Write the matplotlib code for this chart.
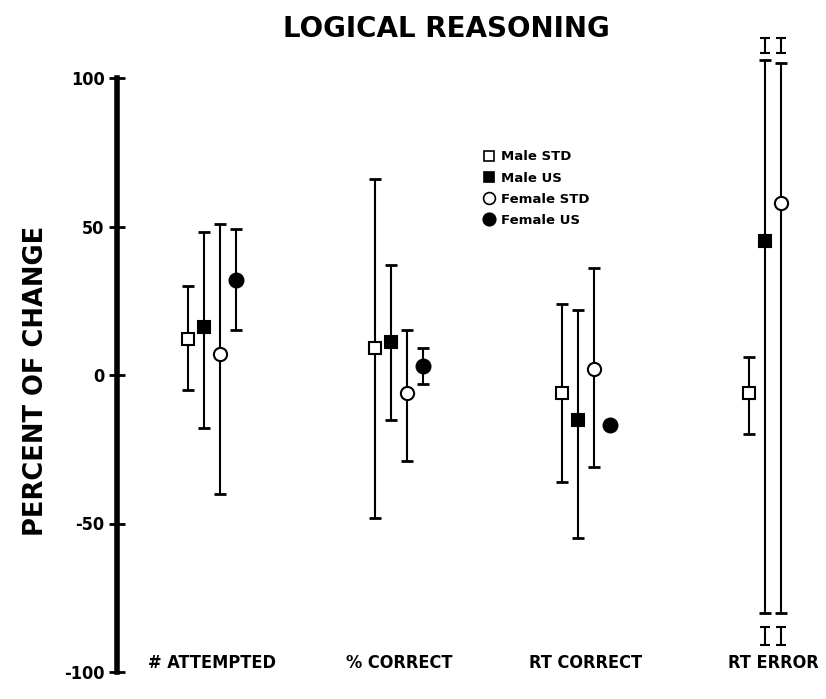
import numpy as np
import matplotlib
matplotlib.use("Agg")
import matplotlib.pyplot as plt
from matplotlib.lines import Line2D

categories = ["# ATTEMPTED", "% CORRECT", "RT CORRECT", "RT ERROR"]
series = ["Male STD", "Male US", "Female STD", "Female US"]

male_std = [12, 9, -6, -6]
male_std_lo = [-5, -48, -36, -20]
male_std_hi = [30, 66, 24, 6]

male_us = [16, 11, -15, 45]
male_us_lo = [-18, -15, -55, -80]
male_us_hi = [48, 37, 22, 106]

female_std = [7, -6, 2, 58]
female_std_lo = [-40, -29, -31, -80]
female_std_hi = [51, 15, 36, 105]

female_us = [32, 3, -17, np.nan]
female_us_lo = [15, -3, -17, np.nan]
female_us_hi = [49, 9, -17, np.nan]

# off-scale breaks on the RT ERROR bars (Male US, Female STD)
break_top = [111, 111]
break_bottom = [-88, -88]

means = [male_std, male_us, female_std, female_us]
lows = [male_std_lo, male_us_lo, female_std_lo, female_us_lo]
highs = [male_std_hi, male_us_hi, female_std_hi, female_us_hi]
markers = ["s", "s", "o", "o"]
faces = ["white", "black", "white", "black"]
sizes = [8, 8, 9.5, 10]
offsets = [-0.13, -0.045, 0.045, 0.13]

fig = plt.figure(figsize=(8.26, 6.99), dpi=100)
ax = fig.add_axes([117 / 826, 27 / 699, 1 - 117 / 826, 594 / 699])

x = np.arange(len(categories))
for i in range(len(series)):
    m = np.array(means[i], dtype=float)
    lo = np.array(lows[i], dtype=float)
    hi = np.array(highs[i], dtype=float)
    xs = x + offsets[i]
    ax.errorbar(xs, m, yerr=[m - lo, hi - m], fmt="none", ecolor="black",
                elinewidth=1.5, capsize=4.5, capthick=2, clip_on=False, zorder=2)
    ax.plot(xs, m, linestyle="none", marker=markers[i], markersize=sizes[i],
            markerfacecolor=faces[i], markeredgecolor="black", markeredgewidth=1.5,
            label=series[i], clip_on=False, zorder=3)

# little "I" marks beyond the broken bars
bx = x[3] + np.array(offsets[1:3])
ax.errorbar(bx, break_top, yerr=2.5, fmt="none", ecolor="black",
            elinewidth=1.5, capsize=3.5, capthick=1.5, clip_on=False)
ax.errorbar(bx, break_bottom, yerr=3, fmt="none", ecolor="black",
            elinewidth=1.5, capsize=3.5, capthick=1.5, clip_on=False)

ax.set_xlim(-95 / 187, (826 - 212) / 187)
ax.set_ylim(-100, 100)

for s in ["top", "right", "bottom"]:
    ax.spines[s].set_visible(False)
ax.spines["left"].set_linewidth(4)

ax.set_yticks([-100, -50, 0, 50, 100])
ax.set_yticklabels(["-100", "-50", "0", "50", "100"], family="DejaVu Sans",
                   fontstretch="condensed", fontweight="bold", fontsize=13)
ax.tick_params(axis="y", direction="inout", length=12, width=2, pad=3)

ax.set_xticks(x)
ax.set_xticklabels(categories, family="DejaVu Sans", fontstretch="condensed",
                   fontweight="bold", fontsize=13)
ax.tick_params(axis="x", length=0, pad=-13)

ax.set_ylabel("PERCENT OF CHANGE", fontsize=18.5, fontweight="bold")
ax.yaxis.set_label_coords(-0.096, 0.49)
fig.suptitle("LOGICAL REASONING", x=0.541, y=0.979, fontsize=20, fontweight="bold")

handles = [Line2D([], [], linestyle="none", marker=markers[i], markersize=sizes[i] - 1,
                  markerfacecolor=faces[i], markeredgecolor="black", markeredgewidth=1.2)
           for i in range(len(series))]
ax.legend(handles, series, loc="upper left", bbox_to_anchor=(0.50, 0.898),
          frameon=False, handlelength=0.8, handletextpad=0.5, labelspacing=0.62,
          prop={"family": "DejaVu Sans", "weight": "bold", "size": 9.5})

fig.savefig("out.png", dpi=100, facecolor="white")
